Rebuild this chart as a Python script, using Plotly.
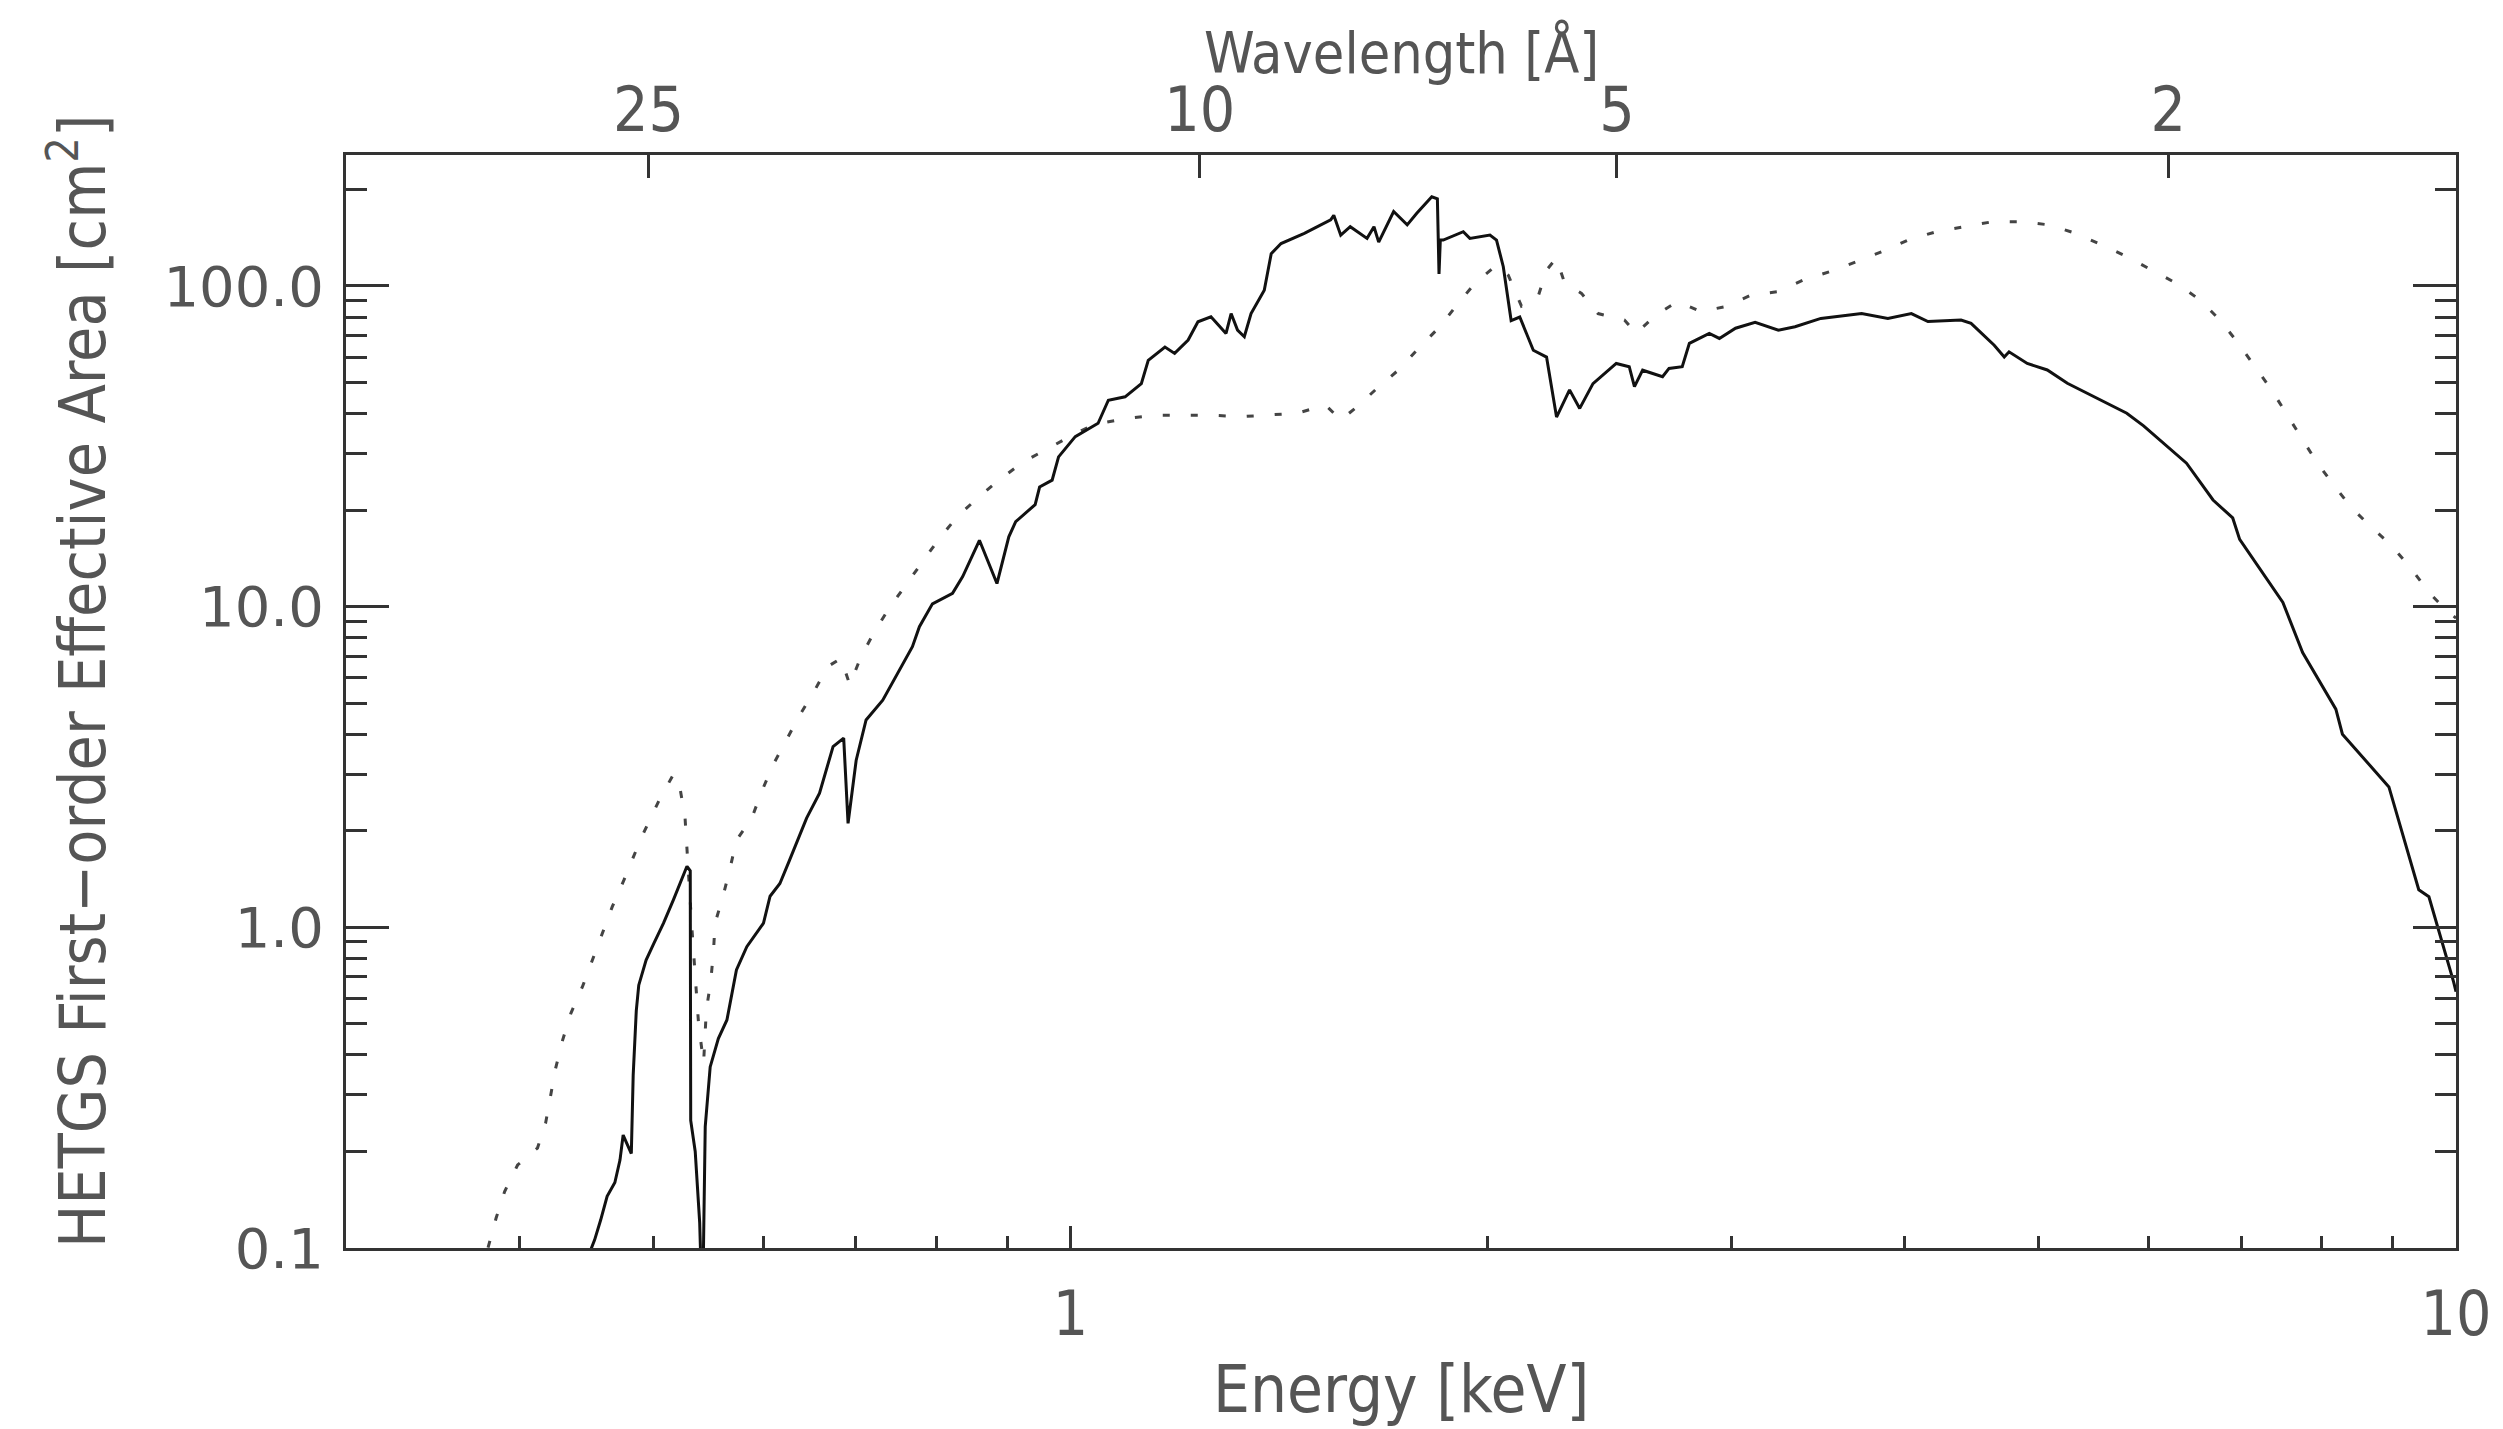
import math
import plotly.graph_objects as go

# ---- data ----
solid_energy = [0.449, 0.4535, 0.458, 0.463, 0.469, 0.473, 0.4755, 0.479, 0.482, 0.4835, 0.486, 0.488,
                0.494, 0.5003, 0.5085, 0.517, 0.5287, 0.5316, 0.532, 0.536, 0.540, 0.5425, 0.5445,
                0.545, 0.5495, 0.557, 0.565, 0.574, 0.584, 0.6004, 0.607, 0.617, 0.627, 0.645,
                0.659, 0.674, 0.686, 0.691, 0.7004, 0.712, 0.732, 0.752, 0.769, 0.778, 0.795, 0.822,
                0.836, 0.8596, 0.885, 0.9026, 0.913, 0.943, 0.950, 0.970, 0.9804, 1.008, 1.047,
                1.065, 1.095, 1.125, 1.138, 1.17, 1.189, 1.216, 1.236, 1.263, 1.295, 1.306, 1.32,
                1.335, 1.35, 1.38, 1.396, 1.419, 1.475, 1.541, 1.549, 1.567, 1.592, 1.637, 1.656,
                1.669, 1.711, 1.75, 1.778, 1.823, 1.840, 1.845, 1.849, 1.858, 1.921, 1.942, 2.008,
                2.03, 2.053, 2.08, 2.11, 2.158, 2.206, 2.243, 2.292, 2.331, 2.383, 2.477, 2.531,
                2.553, 2.588, 2.675, 2.704, 2.764, 2.797, 2.891, 2.94, 3.02, 3.12, 3.243, 3.334,
                3.48, 3.724, 3.89, 4.045, 4.158, 4.393, 4.467, 4.642, 4.72, 4.758, 4.904, 5.07,
                5.242, 5.476, 5.786, 5.95, 6.115, 6.39, 6.678, 6.9, 6.98, 7.5, 7.75, 8.19, 8.28,
                8.945, 9.40, 9.56, 9.96, 10.0]
solid_area = [0.095, 0.106, 0.122, 0.145, 0.160, 0.188, 0.225, 0.21, 0.197, 0.346, 0.55, 0.66,
              0.79, 0.89, 1.03, 1.22, 1.55, 1.50, 0.25, 0.20, 0.12, 0.06, 0.16,
              0.239, 0.367, 0.45, 0.514, 0.736, 0.87, 1.03, 1.25, 1.37, 1.62, 2.19,
              2.62, 3.66, 3.89, 2.11, 3.32, 4.43, 5.11, 6.34, 7.5, 8.66, 10.2, 11.0,
              12.4, 16.1, 11.8, 16.5, 18.4, 20.8, 23.6, 24.8, 29.3, 33.9, 37.3,
              44.0, 45.1, 49.6, 58.6, 64.5, 61.6, 67.8, 77.3, 80.1, 71.1, 82.0, 72.8,
              69.4, 82.0, 97.0, 126.0, 135.6, 145.8, 160.6, 166.0, 144.0, 153.0, 140.7, 153.0,
              137.0, 170.6, 155.0, 168.4, 189.6, 187.0, 109.0, 139.0, 139.0, 147.6, 140.7, 144.0,
              139.0, 114.8, 78.0, 80.0, 63.0, 60.0, 39.0, 47.4, 41.5, 49.6, 57.3, 56.0,
              48.5, 54.6, 52.1, 55.3, 56.0, 66.2, 71.1, 68.6, 73.8, 77.0, 72.8, 74.6,
              79.2, 82.0, 79.2, 82.0, 77.4, 78.3, 76.4, 65.3, 60.0, 62.3, 57.3, 54.7,
              49.7, 45.2, 40.1, 36.6, 33.1, 28.0, 21.5, 18.9, 16.2, 10.3, 7.19, 4.79, 4.0,
              2.74, 1.31, 1.245, 0.676, 0.63]

dotted_energy = [0.370, 0.3798, 0.385, 0.3905, 0.399, 0.4124, 0.418, 0.4217, 0.425, 0.43, 0.436,
                 0.4444, 0.4519, 0.4595, 0.467, 0.476, 0.49, 0.505, 0.517, 0.522, 0.527, 0.533,
                 0.539, 0.5435, 0.545, 0.546, 0.55, 0.5525, 0.554, 0.5616, 0.568, 0.574, 0.5888,
                 0.5986, 0.61, 0.624, 0.6377, 0.654, 0.668, 0.683, 0.693, 0.706, 0.722, 0.74,
                 0.7606, 0.782, 0.804, 0.8287, 0.859, 0.89, 0.925, 0.9643, 1.0, 1.04, 1.098,
                 1.15, 1.209, 1.267, 1.327, 1.391, 1.458, 1.528, 1.567, 1.61, 1.664, 1.73,
                 1.783, 1.848, 1.9, 1.958, 2.03, 2.07, 2.116, 2.175, 2.206, 2.242, 2.274, 2.338,
                 2.403, 2.511, 2.56, 2.645, 2.742, 2.85, 2.97, 3.10, 3.236, 3.38, 3.53, 3.69,
                 3.85, 4.022, 4.216, 4.418, 4.63, 4.85, 5.085, 5.314, 5.554, 5.786, 6.03, 6.286,
                 6.535, 6.755, 6.96, 7.154, 7.355, 7.54, 7.73, 7.93, 8.15, 8.40, 8.68, 8.97,
                 9.275, 9.56, 9.78, 10.0]
dotted_area = [0.085, 0.10, 0.124, 0.15, 0.1815, 0.205, 0.245, 0.30, 0.363, 0.445, 0.54,
               0.653, 0.791, 0.958, 1.16, 1.40, 1.9, 2.5, 3.0, 2.8, 2.2, 1.0,
               0.5, 0.377, 0.456, 0.552, 0.678, 0.84, 1.03, 1.26, 1.53, 1.87, 2.19,
               2.65, 3.21, 3.84, 4.59, 5.5, 6.5, 6.9, 5.7, 6.98, 8.36, 9.9,
               11.7, 13.8, 16.3, 19.1, 22.0, 25.0, 28.3, 31.2, 34.0, 37.0, 38.6,
               39.5, 39.5, 39.5, 39.1, 39.5, 40.1, 42.5, 38.2, 42.0, 47.9, 55.3,
               63.9, 74.7, 87.1, 101.8, 116.0, 108.0, 86.5, 92.5, 112.0, 122.0, 101.8, 94.8,
               82.0, 78.3, 71.1, 81.1, 89.3, 83.2, 86.2, 93.7, 95.9, 104.3, 110.7, 118.9,
               127.8, 139.0, 147.6, 153.0, 158.6, 158.6, 155.0, 145.9, 134.2, 123.4, 112.0, 101.8,
               90.4, 78.3, 66.5, 56.3, 47.6, 40.1, 33.9, 28.3, 24.1, 20.4, 17.75, 15.6,
               13.2, 11.07, 10.0, 9.2]

energy_major = [1, 10]
energy_major_text = ["1", "10"]
energy_minor = [0.4, 0.5, 0.6, 0.7, 0.8, 0.9, 2, 3, 4, 5, 6, 7, 8, 9]
wavelength_ticks = [25, 10, 5, 2]
wavelength_text = ["25", "10", "5", "2"]
area_major = [0.1, 1, 10, 100]
area_major_text = ["0.1", "1.0", "10.0", "100.0"]
area_minor = [0.2, 0.3, 0.4, 0.5, 0.6, 0.7, 0.8, 0.9, 2, 3, 4, 5, 6, 7, 8, 9,
              20, 30, 40, 50, 60, 70, 80, 90, 200]

HC = 12.398  # keV * Angstrom
E_RANGE = [0.3, 10.0]
A_RANGE = [0.1, 256.0]

xr = [math.log10(E_RANGE[0]), math.log10(E_RANGE[1])]
yr = [math.log10(A_RANGE[0]), math.log10(A_RANGE[1])]

TEXT = "#555555"
AXC = "#333333"
NARROW = "DejaVu Sans Condensed, Liberation Sans Narrow, Arial Narrow, sans-serif"
WIDE = "DejaVu Sans, Verdana, sans-serif"

fig = go.Figure()
fig.add_trace(go.Scatter(x=dotted_energy, y=dotted_area, mode="lines",
                         line=dict(color="#444444", width=3, dash="7px,21px"),
                         hoverinfo="skip"))
fig.add_trace(go.Scatter(x=solid_energy, y=solid_area, mode="lines",
                         line=dict(color="#111111", width=3),
                         hoverinfo="skip"))
fig.add_trace(go.Scatter(x=[E_RANGE[0]], y=[A_RANGE[0]], xaxis="x2", yaxis="y",
                         mode="markers", marker=dict(opacity=0), showlegend=False,
                         hoverinfo="skip"))

W, H = 2503, 1429
L, R, T, B = 346, 39, 155, 181

fig.update_layout(
    width=W, height=H,
    margin=dict(l=L, r=R, t=T, b=B),
    paper_bgcolor="white", plot_bgcolor="white",
    showlegend=False,
    xaxis=dict(type="log", range=xr, showgrid=False, zeroline=False,
               showline=True, linecolor=AXC, linewidth=3, mirror=True,
               tickmode="array", tickvals=energy_major, ticktext=energy_major_text,
               ticks="inside", ticklen=22, tickwidth=2.5, tickcolor=AXC,
               ticklabelstandoff=10,
               tickfont=dict(family=NARROW, size=62, color=TEXT),
               minor=dict(tickmode="array", tickvals=energy_minor, ticks="inside",
                          ticklen=12, tickwidth=2.5, tickcolor=AXC, showgrid=False)),
    xaxis2=dict(type="log", range=xr, overlaying="x", anchor="y", side="top",
                showgrid=False, zeroline=False, showline=False,
                tickmode="array", tickvals=[HC / w for w in wavelength_ticks],
                ticktext=wavelength_text,
                ticks="inside", ticklen=23, tickwidth=2.5, tickcolor=AXC,
                ticklabelstandoff=11,
                tickfont=dict(family=NARROW, size=62, color=TEXT)),
    yaxis=dict(type="log", range=yr, showgrid=False, zeroline=False,
               showline=True, linecolor=AXC, linewidth=3, mirror="ticks",
               tickmode="array", tickvals=area_major, ticktext=area_major_text,
               ticks="inside", ticklen=43, tickwidth=2.5, tickcolor=AXC,
               ticklabelstandoff=8,
               tickfont=dict(family=WIDE, size=56, color=TEXT),
               minor=dict(tickmode="array", tickvals=area_minor, ticks="inside",
                          ticklen=21, tickwidth=2.5, tickcolor=AXC, showgrid=False)),
    annotations=[
        dict(text="Energy [keV]", xref="paper", yref="paper", x=0.5, y=0,
             xanchor="center", yanchor="middle", yshift=-(1389 - (H - B)),
             showarrow=False, font=dict(family=NARROW, size=65, color=TEXT)),
        dict(text="Wavelength [Å]", xref="paper", yref="paper", x=0.5, y=1,
             xanchor="center", yanchor="middle", yshift=(T - 52),
             showarrow=False, font=dict(family=NARROW, size=57, color=TEXT)),
        dict(text="HETGS First\u2212order Effective Area [cm<sup>2</sup>]",
             xref="paper", yref="paper", x=0, y=0.5, textangle=-90,
             xanchor="center", yanchor="middle",
             xshift=(78 - L), yshift=((T + (H - B)) / 2 - 682),
             showarrow=False, font=dict(family=NARROW, size=64, color=TEXT)),
    ],
)

fig.write_html("out.html")
